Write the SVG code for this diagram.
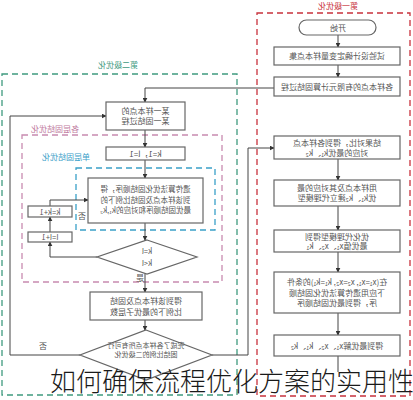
<svg xmlns="http://www.w3.org/2000/svg" width="413" height="400" viewBox="0 0 413 400">
<defs>
<marker id="ah" viewBox="0 0 8 8" refX="7" refY="4" markerWidth="5" markerHeight="5" orient="auto"><path d="M0,0 L8,4 L0,8 z" fill="#333"/></marker>
<style>
.box{fill:#fff;stroke:#666;stroke-width:1.2}
.t{font-family:"Noto Sans CJK SC",sans-serif;font-size:8px;fill:#555;text-anchor:middle}
.s{font-size:7.5px}
.d{font-size:7px}
.c{stroke:#444;stroke-width:1;fill:none}
.a{marker-end:url(#ah)}
.dash{fill:none;stroke-width:1.3;stroke-dasharray:6 4}
.big{font-family:"Noto Sans CJK SC",sans-serif;font-size:26px;font-weight:300;fill:#1a1a1a}
</style>
</defs>
<rect width="413" height="400" fill="#fff"/>
<g id="frames">
<rect x="257" y="13" width="153" height="383" class="dash" stroke="#c8323c"/>
<rect x="2" y="74" width="235" height="321" class="dash" stroke="#3f9a7f"/>
<rect x="22" y="135" width="200" height="147" class="dash" stroke="#c88ab0"/>
<rect x="76" y="168" width="139" height="62" class="dash" stroke="#3aa0c8"/>
<text class="t" style="fill:#c8323c" transform="translate(338,9) scale(-1,1)">第一级优化</text>
<text class="t" style="fill:#3f9a7f" transform="translate(118,68) scale(-1,1)">第二级优化</text>
<text class="t" style="fill:#c07aa0" transform="translate(55,132) scale(-1,1)">各层固结优化</text>
<text class="t" style="fill:#3aa0c8" transform="translate(66,160) scale(-1,1)">单层固结优化</text>
</g>
<g id="connectors">
<path class="c a" d="M338,35 V47"/>
<path class="c a" d="M338,65 V77"/>
<path class="c a" d="M274,88 H145 V102"/>
<path class="c a" d="M338,159 V180"/>
<path class="c a" d="M338,206 V230"/>
<path class="c a" d="M338,252 V272"/>
<path class="c a" d="M338,313 V335"/>
<path class="c" d="M338,356 V372"/>
<path class="c a" d="M80,355 H10 V116 H106"/>
<path class="c a" d="M145,130 V147"/>
<path class="c a" d="M145,160 V178"/>
<path class="c a" d="M145,223 V240"/>
<path class="c a" d="M97,257 H50 V242"/>
<path class="c a" d="M50,232 V217"/>
<path class="c a" d="M50,206 V200 H88"/>
<path class="c a" d="M145,274 V292"/>
<path class="c a" d="M145,320 V330"/>
<path class="c a" d="M212,355 H248 V148 H274"/>
<text class="t" transform="translate(43,349) scale(-1,1)">否</text>
<text class="t" transform="translate(140,281) scale(-1,1)">是</text>
<text class="t" transform="translate(82,219) scale(-1,1)">否</text>
</g>
<g id="n1"><rect x="299" y="20" width="77" height="15" rx="7.5" class="box"/><text class="t" transform="translate(338,30.5) scale(-1,1)">开始</text></g>
<g id="n2"><rect x="274" y="47" width="126" height="18" class="box"/><text class="t" transform="translate(337,59) scale(-1,1)">试验设计确定变量样本点集</text></g>
<g id="n3"><rect x="274" y="77" width="126" height="19" class="box"/><text class="t" transform="translate(337,89.5) scale(-1,1)">各样本点的有限元计算固结过程</text></g>
<g id="n4"><rect x="274" y="136" width="126" height="23" class="box"/><text class="t" transform="translate(337,146) scale(-1,1)">结果对比，得到各样本点</text><text class="t" transform="translate(337,155.5) scale(-1,1)">对应的最优k₁、k₂</text></g>
<g id="n5"><rect x="274" y="180" width="126" height="26" class="box"/><text class="t" transform="translate(337,191) scale(-1,1)">用样本点及其对应的最</text><text class="t" transform="translate(337,201) scale(-1,1)">优k₁、k₂建立代理模型</text></g>
<g id="n6"><rect x="274" y="230" width="126" height="22" class="box"/><text class="t" transform="translate(337,239.5) scale(-1,1)">优化代理模型得到</text><text class="t" transform="translate(337,249) scale(-1,1)">最优值x₁、x₂、k₁</text></g>
<g id="n7"><rect x="274" y="272" width="126" height="41" class="box"/><text class="t" transform="translate(337,285) scale(-1,1)">在(x₁=x₁, x₂=x₂, k₁=k₁)的条件</text><text class="t" transform="translate(337,295.5) scale(-1,1)">下应用遗传算法优化固结顺</text><text class="t" transform="translate(337,306) scale(-1,1)">序，得到最优固结顺序</text></g>
<g id="n8"><rect x="274" y="335" width="126" height="21" class="box"/><text class="t" transform="translate(337,348.5) scale(-1,1)">得到最优解x₁、x₂、k₁、k₂</text></g>
<g id="nA"><rect x="106" y="102" width="79" height="28" class="box"/><text class="t" transform="translate(145.5,114) scale(-1,1)">某一样本点的</text><text class="t" transform="translate(145.5,124) scale(-1,1)">某一固结过程</text></g>
<g id="nB"><rect x="106" y="147" width="79" height="13" class="box"/><text class="t" transform="translate(145.5,156.5) scale(-1,1)">k=1，l=1</text></g>
<g id="nC"><rect x="88" y="178" width="115" height="45" class="box"/><text class="t s" transform="translate(145.5,192) scale(-1,1)">遗传算法优化固结顺序，得</text><text class="t s" transform="translate(145.5,202.5) scale(-1,1)">到该样本点及固结比例下的</text><text class="t s" transform="translate(145.5,213) scale(-1,1)">最优固结顺序和对应的k₁,k₂</text></g>
<g id="nD"><rect x="28" y="206" width="44" height="11" class="box"/><text class="t s" transform="translate(50,214.5) scale(-1,1)">k=k+1</text></g>
<g id="nE"><rect x="28" y="232" width="44" height="10" class="box"/><text class="t s" transform="translate(50,240) scale(-1,1)">l=l+1</text></g>
<g id="nF"><polygon points="147,240 197,257 147,274 97,257" class="box"/><text class="t s" transform="translate(147,254) scale(-1,1)">k=l</text><text class="t s" transform="translate(147,266) scale(-1,1)">k&lt;l</text></g>
<g id="nG"><rect x="90" y="292" width="112" height="28" class="box"/><text class="t" transform="translate(146,304) scale(-1,1)">得到该样本点及固结</text><text class="t" transform="translate(146,314.5) scale(-1,1)">比例下的最优子层数</text></g>
<g id="nH"><polygon points="146,330 212,355 146,380 80,355" class="box"/><text class="t d" transform="translate(146,348) scale(-1,1)">完成了各样本点所有可行</text><text class="t d" transform="translate(146,357) scale(-1,1)">固结比例的二级优化</text></g>
<text class="big" x="50" y="391">如何确保流程优化方案的实用性</text>
</svg>
